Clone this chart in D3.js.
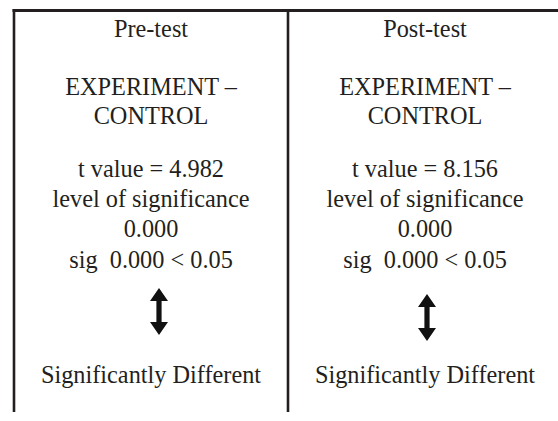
<!DOCTYPE HTML>
<html>
<head>
<meta charset="utf-8">
<title>t-test comparison</title>
<script src="https://d3js.org/d3.v7.min.js"></script>
<style>
body { margin: 0; background: #ffffff; }
</style>
</head>

<body>
<script>

"use strict";

// data
const tests = ["Pre-test", "Post-test"];
const groups = ["EXPERIMENT –", "CONTROL"];
const tValues = [4.982, 8.156];
const sigLevels = [0.000, 0.000];
const alpha = 0.05;
const results = ["Significantly Different", "Significantly Different"];

const width = 558, height = 421;
const ink = "#231f20";

const svg = d3.select("body").append("svg")
  .attr("width", width)
  .attr("height", height);

const x = d3.scaleBand()
  .domain(tests)
  .range([14, 562]);

// frame lines
const frame = svg.append("g")
  .attr("stroke", ink)
  .attr("fill", "none");

frame.append("line")
  .attr("x1", 12.5).attr("y1", 10.5)
  .attr("x2", width).attr("y2", 10.5)
  .attr("stroke-width", 3);

frame.selectAll("line.v")
  .data(tests)
  .enter()
  .append("line")
  .attr("class", "v")
  .attr("x1", (d) => x(d))
  .attr("x2", (d) => x(d))
  .attr("y1", 9)
  .attr("y2", 412)
  .attr("stroke-width", 2.6);

// text for each column
const lines = (d, i) => [
  {text: d, y: 37},
  {text: groups[0], y: 95},
  {text: groups[1], y: 124},
  {text: "t value = " + d3.format(".3f")(tValues[i]), y: 177},
  {text: "level of significance", y: 207},
  {text: d3.format(".3f")(sigLevels[i]), y: 237},
  {text: "sig  " + d3.format(".3f")(sigLevels[i]) + " < " + alpha, y: 268},
  {text: results[i], y: 383}
];

const col = svg.selectAll("g.col")
  .data(tests)
  .enter()
  .append("g")
  .attr("class", "col")
  .attr("transform", (d) => "translate(" + (x(d) + x.bandwidth() / 2) + ",0)");

col.each(function(d, i) {
  d3.select(this).selectAll("text")
    .data(lines(d, i))
    .enter()
    .append("text")
    .attr("x", 0)
    .attr("y", (l) => l.y)
    .attr("text-anchor", "middle")
    .attr("font-family", "'Liberation Serif', 'DejaVu Serif', serif")
    .attr("font-size", 24.3)
    .attr("fill", ink)
    .style("white-space", "pre")
    .text((l) => l.text);
});

// double-headed arrows
const arrowDx = [8, 2], arrowTop = [288, 294], arrowH = 47;
const arrowPath = (h) => {
  const hw = 9, sw = 2.6, hh = 13;
  return "M0,0 L" + hw + "," + hh + " L" + sw + "," + hh +
    " L" + sw + "," + (h - hh) + " L" + hw + "," + (h - hh) +
    " L0," + h + " L" + (-hw) + "," + (h - hh) + " L" + (-sw) + "," + (h - hh) +
    " L" + (-sw) + "," + hh + " L" + (-hw) + "," + hh + " Z";
};

col.append("path")
  .attr("transform", (d, i) => "translate(" + arrowDx[i] + "," + arrowTop[i] + ")")
  .attr("d", arrowPath(arrowH))
  .attr("fill", "#111111");

</script>
</body>
</html>
